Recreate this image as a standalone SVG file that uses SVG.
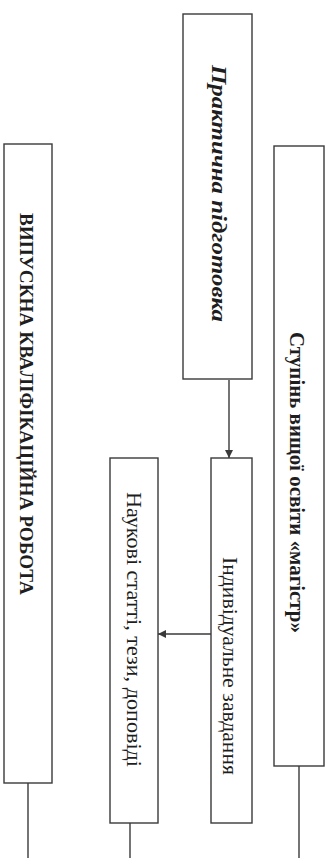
<svg xmlns="http://www.w3.org/2000/svg" width="326" height="858" viewBox="0 0 326 858">
  <style>
    .box { fill: #ffffff; stroke: #3a3a3a; stroke-width: 1.4; }
    .ln { fill: none; stroke: #3a3a3a; stroke-width: 1.4; }
    .t { font-family: "Liberation Serif", "Times New Roman", serif; fill: #1e1e1e; text-anchor: middle; dominant-baseline: central; }
    .b { font-weight: bold; }
    .i { font-style: italic; }
  </style>
  <defs>
    <marker id="ah" viewBox="0 0 10 10" refX="10" refY="5" markerWidth="8" markerHeight="8" markerUnits="userSpaceOnUse" orient="auto">
      <path d="M0,0 L10,5 L0,10 Z" fill="#3a3a3a"/>
    </marker>
  </defs>
  <rect width="326" height="858" fill="#ffffff"/>

  <g id="connectors">
    <line class="ln" x1="229" y1="380" x2="229" y2="458" marker-end="url(#ah)"/>
    <line class="ln" x1="211" y1="634" x2="158" y2="634" marker-end="url(#ah)"/>
    <line class="ln" x1="28" y1="783" x2="28" y2="858"/>
    <line class="ln" x1="130" y1="823" x2="130" y2="858"/>
    <line class="ln" x1="299" y1="766" x2="299" y2="858"/>
  </g>

  <g id="node-praktychna">
    <rect class="box" x="183" y="14" width="69" height="365"/>
    <text class="t b i" font-size="22" x="219" y="193.5" transform="rotate(90 219 193.5)" textLength="257" lengthAdjust="spacingAndGlyphs">Практична підготовка</text>
  </g>

  <g id="node-stupin">
    <rect class="box" x="274" y="146" width="50" height="620"/>
    <text class="t b" font-size="21" x="297" y="482.5" transform="rotate(90 297 482.5)" textLength="301" lengthAdjust="spacingAndGlyphs">Ступінь вищої освіти «магістр»</text>
  </g>

  <g id="node-vypuskna">
    <rect class="box" x="4" y="144" width="48" height="639"/>
    <text class="t b" font-size="19" x="26" y="404" transform="rotate(90 26 404)" textLength="382" lengthAdjust="spacingAndGlyphs">ВИПУСКНА КВАЛІФІКАЦІЙНА РОБОТА</text>
  </g>

  <g id="node-indyvidualne">
    <rect class="box" x="211" y="458" width="41" height="365"/>
    <text class="t" font-size="22" x="230" y="666" transform="rotate(90 230 666)" textLength="218" lengthAdjust="spacingAndGlyphs">Індивідуальне завдання</text>
  </g>

  <g id="node-naukovi">
    <rect class="box" x="110" y="458" width="48" height="365"/>
    <text class="t" font-size="22" x="134.5" y="629.5" transform="rotate(90 134.5 629.5)" textLength="275" lengthAdjust="spacingAndGlyphs">Наукові статті, тези, доповіді</text>
  </g>
</svg>
